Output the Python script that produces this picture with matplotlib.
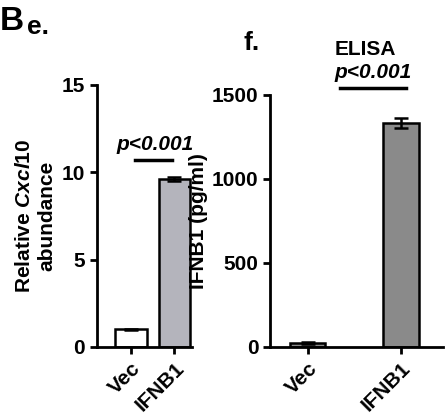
import matplotlib
matplotlib.use("Agg")
import matplotlib.pyplot as plt

cats = ["Vec", "IFNB1"]
cxcl10 = [1.0, 9.6]
cxcl10_err = [0.05, 0.12]
elisa = [25, 1330]
elisa_err = [5, 30]
pval = "p<0.001"

plt.rcParams['font.family'] = ['Liberation Sans', 'DejaVu Sans']
plt.rcParams['mathtext.fontset'] = 'custom'
plt.rcParams['mathtext.it'] = 'Liberation Sans:italic:bold'
plt.rcParams['mathtext.rm'] = 'Liberation Sans:bold'
fig = plt.figure(figsize=(4.45, 4.18), dpi=100)

def style(ax):
    for s in ['top', 'right']:
        ax.spines[s].set_visible(False)
    for s in ['left', 'bottom']:
        ax.spines[s].set_linewidth(2)
    ax.tick_params(width=2, length=5, labelsize=15)
    for lab in ax.get_yticklabels() + ax.get_xticklabels():
        lab.set_fontweight('bold')

ax1 = fig.add_axes([0.218, 0.170, 0.213, 0.627])
ax1.bar([0, 1], cxcl10, width=0.72, color=['white', '#b4b4bc'], edgecolor='black', linewidth=1.8,
        yerr=cxcl10_err, capsize=5, error_kw=dict(elinewidth=1.8, capthick=1.8))
ax1.set_ylim(0, 15)
ax1.set_yticks([0, 5, 10, 15])
ax1.set_xlim(-0.78, 1.4)
ax1.set_xticks([0, 1])
ax1.set_xticklabels(cats, rotation=45, ha='right', rotation_mode='anchor')
ax1.set_ylabel("Relative $\\mathit{Cxcl10}$\nabundance", fontsize=15, fontweight='bold', labelpad=4)
style(ax1)
ax1.plot([0.1, 0.95], [10.7, 10.7], color='black', lw=2.5, clip_on=False)
ax1.text(0.55, 11.3, pval, ha='center', fontsize=15, fontweight='bold', style='italic')

ax2 = fig.add_axes([0.607, 0.170, 0.389, 0.603])
ax2.bar([0, 1], elisa, width=0.38, color=['#8a8a8a', '#8a8a8a'], edgecolor='black', linewidth=1.8,
        yerr=elisa_err, capsize=5, error_kw=dict(elinewidth=1.8, capthick=1.8))
ax2.set_ylim(0, 1500)
ax2.set_yticks([0, 500, 1000, 1500])
ax2.set_xlim(-0.4, 1.45)
ax2.set_xticks([0, 1])
ax2.set_xticklabels(cats, rotation=45, ha='right', rotation_mode='anchor')
ax2.set_ylabel("IFNB1 (pg/ml)", fontsize=15, fontweight='bold', labelpad=3)
style(ax2)
ax2.plot([0.35, 1.05], [1540, 1540], color='black', lw=2.5, clip_on=False)
ax2.text(0.7, 1600, pval, ha='center', fontsize=15, fontweight='bold', style='italic')

fig.text(0.0, 0.985, "B", fontsize=24, fontweight='bold', va='top')
fig.text(0.06, 0.965, "e.", fontsize=19, fontweight='bold', va='top')
fig.text(0.548, 0.925, "f.", fontsize=19, fontweight='bold', va='top')
fig.text(0.82, 0.905, "ELISA", fontsize=15, fontweight='bold', va='top', ha='center')

fig.savefig("out.png", dpi=100)
